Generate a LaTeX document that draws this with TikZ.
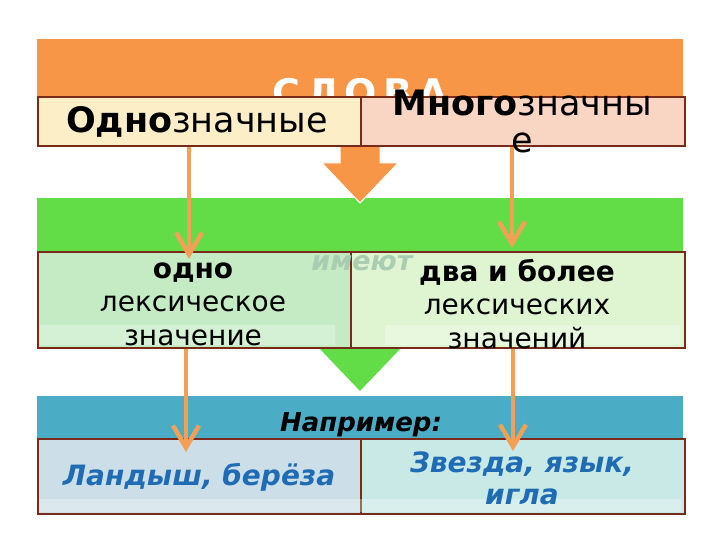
\documentclass[tikz,border=0pt]{standalone}
\usepackage{fontspec}
\setmainfont{DejaVu Sans}
\usetikzlibrary{arrows.meta}

\definecolor{barorange}{HTML}{F79646}
\definecolor{bargreen}{HTML}{62DD48}
\definecolor{barblue}{HTML}{4BACC6}
\definecolor{cellline}{HTML}{7A2A18}
\definecolor{cellyellow}{HTML}{FCEFC8}
\definecolor{cellpink}{HTML}{F9D5C4}
\definecolor{cellgreen}{HTML}{C4EBC4}
\definecolor{celllime}{HTML}{DFF5D2}
\definecolor{cellsky}{HTML}{CCDFE8}
\definecolor{cellaqua}{HTML}{C9E9E6}
\definecolor{arroworange}{HTML}{F3A056}
\definecolor{textblue}{HTML}{1F6CB5}
\definecolor{ghostgray}{HTML}{A9CDB0}

\begin{document}
\begin{tikzpicture}[x=1pt,y=-1pt,
    cell/.style={draw=cellline, line width=1.6pt, inner sep=0pt, anchor=north west},
    thin arrow/.style={arroworange, line width=4.5pt,
        -{Straight Barb[length=22pt,width=26pt,line width=4.5pt]}},
    big/.style={font=\fontsize{35}{37}\selectfont},
    mid/.style={font=\fontsize{28}{33.5}\selectfont, align=center},
    example/.style={font=\fontsize{28}{32}\selectfont\bfseries\itshape, text=textblue, align=center}]
    \useasboundingbox (0,0) rectangle (720,540);

    % Bars
    \fill[barorange] (37,39) rectangle (683,120);
    \node[white, font=\fontsize{38}{40}\selectfont\bfseries] (slova) at (360,93) {С\,Л\,О\,В\,А};
    \fill[bargreen] (37,198) rectangle (683,262);
    \fill[barblue] (37,396) rectangle (683,445);

    % Big arrows
    \fill[barorange, draw=white, line width=1pt] (340,145) -- (380,145) -- (380,163) -- (398,163)
        -- (360,203) -- (322,163) -- (340,163) -- cycle;
    \fill[bargreen] (318,347) -- (402,347) -- (360,391) -- cycle;

    % Cells
    \node[cell, fill=cellyellow, minimum width=323pt, minimum height=49pt] (odno) at (37,96) {};
    \node[cell, fill=cellpink, minimum width=324pt, minimum height=49pt] (mnogo) at (360,96) {};
    \node[cell, fill=cellgreen, minimum width=313pt, minimum height=96pt] (lexL) at (37,251) {};
    \node[cell, fill=celllime, minimum width=334pt, minimum height=96pt] (lexR) at (350,251) {};
    \node[cell, fill=cellsky, minimum width=323pt, minimum height=75pt] (exL) at (37,438) {};
    \node[cell, fill=cellaqua, minimum width=324pt, minimum height=75pt] (exR) at (360,438) {};
    \fill[white, opacity=0.3] (40,325) rectangle (335,345);
    \fill[white, opacity=0.3] (385,325) rectangle (680,345);
    \fill[white, opacity=0.3] (39,499) rectangle (681,512);

    % Labels
    \node[big] (odnoText) at (197,122) {\textbf{Одно}значные};
    \node[big, align=center] (mnogoText) at (522,121) {\textbf{Много}значны\\е};
    \node[text=ghostgray, font=\fontsize{27}{29}\selectfont\bfseries\itshape] (imeyut) at (362,263) {имеют};
    \node[mid] (lexLText) at (193,304) {\textbf{одно}\\лексическое\\значение};
    \node[mid] (lexRText) at (517,304) {\textbf{два и более}\\лексических\\значений};
    \node[font=\fontsize{26}{28}\selectfont\bfseries\itshape] (naprimer) at (361,425) {Например:};
    \node[example] (exLText) at (199,477) {Ландыш, берёза};
    \node[example] (exRText) at (522,478) {Звезда, язык,\\игла};

    % Thin arrows
    \coordinate (tipA) at (189,259);
    \coordinate (tipB) at (512,248);
    \coordinate (tipC) at (186,452);
    \coordinate (tipD) at (513,451);
    \draw[thin arrow] (odno.south -| tipA) -- (tipA);
    \draw[thin arrow] (mnogo.south -| tipB) -- (tipB);
    \draw[thin arrow] (lexL.south -| tipC) -- (tipC);
    \draw[thin arrow] (lexR.south -| tipD) -- (tipD);
\end{tikzpicture}
\end{document}
